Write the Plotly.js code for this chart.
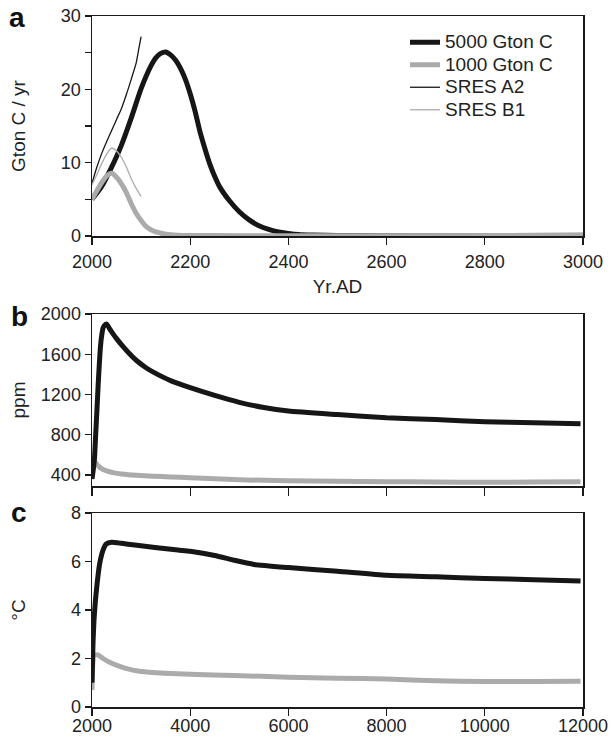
<!DOCTYPE html>
<html>
<head>
<meta charset="utf-8">
<script src="https://cdn.plot.ly/plotly-3.0.1.min.js"></script>
<style>html,body{margin:0;padding:0;background:#fff;}#chart{width:616px;height:740px;}</style>
</head>
<body>
<div id="chart"></div>
<script>
// ---------- Panel a: emissions (Gton C / yr) ----------
const yearsA5000 = [2000,2020,2040,2060,2080,2100,2120,2130,2140,2150,2160,2170,2180,2190,2200,2210,2220,2230,2240,2250,2260,2280,2300,2320,2340,2360,2380,2400,2420,2450,2500,2600,2800,3000];
const emis5000   = [5.0,6.8,9.4,12.4,16.1,20.1,23.2,24.3,24.9,25.1,24.7,24.0,22.9,21.4,19.4,17.0,14.2,11.9,9.8,8.1,6.7,4.8,3.3,2.2,1.4,0.9,0.55,0.35,0.2,0.12,0.08,0.05,0.05,0.1];
const yearsA1000 = [2000,2020,2030,2040,2050,2060,2070,2080,2090,2100,2110,2120,2130,2150,2175,2200,2300,2500,3000];
const emis1000   = [5.0,7.3,8.2,8.55,8.0,7.1,5.9,4.4,3.1,2.1,1.3,0.85,0.55,0.25,0.1,0.06,0.05,0.05,0.08];
const yearsA2    = [2000,2010,2020,2030,2040,2050,2060,2070,2080,2090,2095,2100];
const emisA2     = [7.2,9.4,11.3,12.9,14.4,15.9,17.4,19.3,21.4,23.6,25.4,27.2];
const yearsB1    = [2000,2010,2020,2030,2040,2050,2060,2070,2080,2090,2100];
const emisB1     = [7.0,8.4,9.9,11.2,12.0,11.6,10.7,9.4,7.8,6.5,5.4];
const tickValsA  = [0,5,10,15,20,25,30];
const tickTextA  = ['0','','10','','20','','30'];
const xTicksA    = [2000,2200,2400,2600,2800,3000];
const xTextA     = ['2000','2200','2400','2600','2800','3000'];

// ---------- Panel b: atmospheric CO2 (ppm) ----------
const yearsB5000 = [2000,2025,2050,2075,2100,2125,2150,2175,2200,2225,2250,2300,2350,2425,2500,2625,2750,2900,3100,3250,3600,4000,4500,5000,5500,6000,7000,8000,9000,10000,11000,11950];
const co2_5000   = [360,450,560,800,1040,1290,1510,1690,1795,1860,1885,1900,1860,1805,1755,1680,1612,1540,1466,1422,1338,1268,1190,1122,1070,1035,1000,968,950,930,920,910];
const yearsB1000 = [2000,2025,2050,2100,2150,2200,2300,2450,2600,2900,3250,3600,4000,5000,6000,7000,8000,9000,10000,11000,11950];
const co2_1000   = [390,480,535,505,480,460,440,420,410,397,387,380,372,352,342,338,333,330,327,330,332];
const tickValsB  = [400,800,1200,1600,2000];

// ---------- Panel c: temperature (°C) ----------
const yearsC5000 = [2000,2020,2040,2070,2110,2155,2225,2290,2400,2600,2870,3280,3750,4000,4500,4900,5300,6000,7000,8000,9000,10000,11000,11950];
const temp5000   = [1.0,2.6,3.55,4.4,5.2,5.9,6.47,6.72,6.79,6.75,6.68,6.58,6.47,6.42,6.25,6.05,5.88,5.75,5.6,5.43,5.37,5.3,5.25,5.2];
const yearsC1000 = [2000,2010,2040,2120,2225,2390,2670,3000,3480,4000,4900,6000,7000,8000,9000,10000,11000,11950];
const temp1000   = [0.7,1.6,2.13,2.15,2.0,1.81,1.6,1.46,1.39,1.35,1.3,1.23,1.19,1.15,1.08,1.05,1.05,1.06];
const tickValsC  = [0,2,4,6,8];
const xTicksBC   = [2000,4000,6000,8000,10000,12000];
const xTextBC    = ['2000','4000','6000','8000','10000','12000'];

const seriesNames = ['5000 Gton C','1000 Gton C','SRES A2','SRES B1'];

const BLACK = '#161616', GREY = '#ababab', TXT = '#222222';
const FONT = 'Liberation Sans, Arial, Helvetica, sans-serif';
const legendName = s => '<span style="font-size:19px">' + s + '</span>';

const traces = [
  {x: yearsA5000, y: emis5000, name: legendName(seriesNames[0]), xaxis:'x', yaxis:'y', mode:'lines',
   line:{color:BLACK, width:5, shape:'spline', smoothing:0.6}},
  {x: yearsA1000, y: emis1000, name: legendName(seriesNames[1]), xaxis:'x', yaxis:'y', mode:'lines',
   line:{color:GREY, width:5, shape:'spline', smoothing:0.6}},
  {x: yearsA2, y: emisA2, name: legendName(seriesNames[2]), xaxis:'x', yaxis:'y', mode:'lines',
   line:{color:BLACK, width:1.3, shape:'spline', smoothing:0.6}},
  {x: yearsB1, y: emisB1, name: legendName(seriesNames[3]), xaxis:'x', yaxis:'y', mode:'lines',
   line:{color:GREY, width:1.3, shape:'spline', smoothing:0.6}},
  {x: yearsB1000, y: co2_1000, xaxis:'x2', yaxis:'y2', mode:'lines', showlegend:false,
   line:{color:GREY, width:5, shape:'spline', smoothing:0.5}},
  {x: yearsB5000, y: co2_5000, xaxis:'x2', yaxis:'y2', mode:'lines', showlegend:false,
   line:{color:BLACK, width:5, shape:'spline', smoothing:0.5}},
  {x: yearsC1000, y: temp1000, xaxis:'x3', yaxis:'y3', mode:'lines', showlegend:false,
   line:{color:GREY, width:5, shape:'spline', smoothing:0.5}},
  {x: yearsC5000, y: temp5000, xaxis:'x3', yaxis:'y3', mode:'lines', showlegend:false,
   line:{color:BLACK, width:5, shape:'spline', smoothing:0.5}}
];

const W = 616, H = 740, ML = 92, MR = 33, MT = 16, MB = 33;
const PW = W - ML - MR, PH = H - MT - MB;
const px = v => (v - ML) / PW;           // pixel x -> paper
const py = v => (H - MB - v) / PH;       // pixel y -> paper

const axisCommon = {
  showline:true, linecolor:'#1a1a1a', linewidth:1.5, mirror:true,
  showgrid:false, zeroline:false, ticks:'outside', ticklen:6, tickwidth:1.3, tickcolor:'#1a1a1a',
  tickfont:{family:FONT, size:18, color:TXT}
};
const titleFont = {family:FONT, size:19, color:TXT};

const layout = {
  width:W, height:H,
  margin:{l:ML, r:MR, t:MT, b:MB},
  paper_bgcolor:'#fff', plot_bgcolor:'#fff',
  font:{family:FONT, size:18, color:TXT},
  showlegend:true,
  legend:{x:px(405), y:py(26), xanchor:'left', yanchor:'top', bgcolor:'rgba(0,0,0,0)',
          font:{family:FONT, size:15, color:TXT}, tracegroupgap:0},
  xaxis: Object.assign({}, axisCommon, {domain:[0,1], anchor:'y', range:[2000,3000],
          tickmode:'array', tickvals:xTicksA, ticktext:xTextA, ticklen:7, ticklabelstandoff:2,
          title:{text:'Yr.AD', font:titleFont, standoff:8}}),
  yaxis: Object.assign({}, axisCommon, {domain:[py(236), py(16)], anchor:'x', range:[0,30],
          tickmode:'array', tickvals:tickValsA, ticktext:tickTextA,
          title:{text:'Gton C / yr', font:titleFont, standoff:30}}),
  xaxis2: Object.assign({}, axisCommon, {domain:[0,1], anchor:'y2', range:[2000,12000],
          tickmode:'array', tickvals:xTicksBC, showticklabels:false, ticklen:8}),
  yaxis2: Object.assign({}, axisCommon, {domain:[py(486), py(314)], anchor:'x2', range:[290,2000],
          tickmode:'array', tickvals:tickValsB, ticktext:tickValsB.map(String),
          title:{text:'ppm', font:titleFont, standoff:10}}),
  xaxis3: Object.assign({}, axisCommon, {domain:[0,1], anchor:'y3', range:[2000,12000],
          tickmode:'array', tickvals:xTicksBC, ticktext:xTextBC, ticklen:7, ticklabelstandoff:-5}),
  yaxis3: Object.assign({}, axisCommon, {domain:[py(707), py(513)], anchor:'x3', range:[0,8],
          tickmode:'array', tickvals:tickValsC, ticktext:tickValsC.map(String),
          title:{text:'°C', font:titleFont, standoff:40}}),
  annotations:[
    {text:'<b>a</b>', xref:'paper', yref:'paper', x:px(17), y:py(18), xanchor:'center', yanchor:'middle',
     showarrow:false, font:{family:FONT, size:28, color:'#111'}},
    {text:'<b>b</b>', xref:'paper', yref:'paper', x:px(19), y:py(316), xanchor:'center', yanchor:'middle',
     showarrow:false, font:{family:FONT, size:28, color:'#111'}},
    {text:'<b>c</b>', xref:'paper', yref:'paper', x:px(19), y:py(512), xanchor:'center', yanchor:'middle',
     showarrow:false, font:{family:FONT, size:28, color:'#111'}}
  ]
};

Plotly.newPlot('chart', traces, layout, {staticPlot:true, displayModeBar:false});
</script>
</body>
</html>
